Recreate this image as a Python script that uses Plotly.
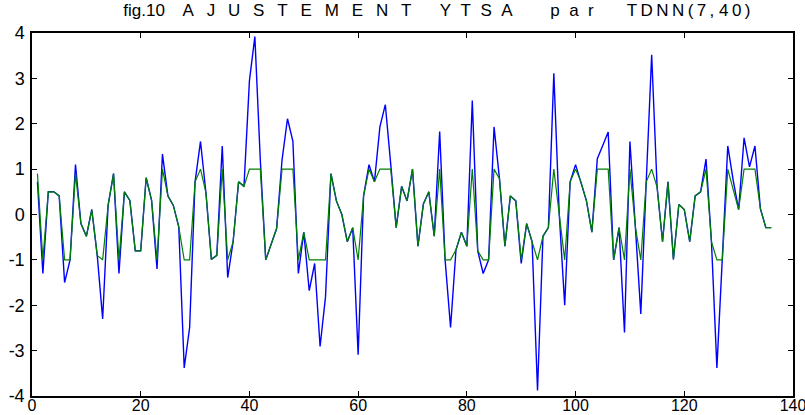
import plotly.graph_objects as go

x_index = list(range(1, 137))

ytsa = [0.72, -1.3, 0.5, 0.5, 0.41, -1.5, -1.0, 1.1, -0.2, -0.48,
        0.11, -0.9, -2.3, 0.2, 0.9, -1.3, 0.5, 0.31, -0.8, -0.8,
        0.81, 0.31, -1.2, 1.33, 0.41, 0.2, -0.27, -3.38, -2.49, 0.72,
        1.61, 0.48, -0.99, -0.9, 1.51, -1.39, -0.6, 0.72, 0.62, 2.95,
        3.92, 1.2, -1.0, -0.67, -0.31, 1.2, 2.11, 1.61, -1.3, -0.39,
        -1.68, -1.08, -2.91, -1.81, 0.9, 0.3, 0.0, -0.6, -0.29, -3.09,
        0.41, 1.1, 0.72, 1.93, 2.42, 1.1, -0.29, 0.62, 0.3, 1.0,
        -0.7, 0.23, 0.5, -0.48, 1.83, -1.0, -2.49, -0.78, -0.39, -0.7,
        2.51, -0.8, -1.3, -1.0, 1.93, 0.79, -0.7, 0.41, 0.3, -1.08,
        -0.2, -0.6, -3.88, -0.48, -0.29, 3.11, 0.0, -2.0, 0.72, 1.1,
        0.72, 0.3, -0.39, 1.23, 1.52, 1.82, -1.0, -0.29, -2.6, 1.61,
        -0.27, -2.19, 0.72, 3.52, 0.6, -0.6, 0.72, -0.99, 0.22, 0.11,
        -0.6, 0.41, 0.5, 1.22, -0.6, -3.38, -0.95, 1.51, 0.75, 0.11,
        1.69, 1.05, 1.51, 0.13, -0.29, -0.29]

tdnn = [0.9, -1, 0.5, 0.5, 0.41, -1, -1, 0.9, -0.2, -0.48,
        0.11, -0.9, -1, 0.2, 0.9, -1, 0.5, 0.31, -0.8, -0.8,
        0.81, 0.31, -1, 1, 0.41, 0.2, -0.27, -1, -1, 0.72,
        1, 0.48, -0.99, -0.9, 1, -1, -0.6, 0.72, 0.62, 1,
        1, 1, -1, -0.67, -0.31, 1, 1, 1, -1, -0.39,
        -1, -1, -1, -1, 0.9, 0.3, 0.0, -0.6, -0.29, -1,
        0.41, 1, 0.72, 1, 1, 1, -0.29, 0.62, 0.3, 1,
        -0.7, 0.23, 0.5, -0.48, 1, -1, -1, -0.78, -0.39, -0.7,
        1, -0.8, -1, -1, 1, 0.79, -0.7, 0.41, 0.3, -1,
        -0.2, -0.6, -1, -0.48, -0.29, 1, 0.0, -1, 0.72, 1,
        0.72, 0.3, -0.39, 1, 1, 1, -1, -0.29, -1, 1,
        -0.27, -1, 0.72, 1, 0.6, -0.6, 0.72, -0.99, 0.22, 0.11,
        -0.6, 0.41, 0.5, 1, -0.6, -1, -1, 1, 0.55, 0.11,
        1, 1, 1, 0.13, -0.29, -0.29]

x_ticks = [0, 20, 40, 60, 80, 100, 120, 140]
y_ticks = [-4, -3, -2, -1, 0, 1, 2, 3, 4]

title_words = ["fig.10", "AJUSTEMENT", "YTSA", "par", "TDNN(7,", "40)"]

NB = "&nbsp;"
THIN = "\u2009"


def spaced(word, sep):
    return sep.join(list(word))


title_text = (title_words[0] + NB * 3 + THIN
              + spaced(title_words[1], NB * 2 + THIN) + NB * 6
              + spaced(title_words[2], NB * 2) + NB * 8
              + spaced(title_words[3], NB * 2) + NB * 7
              + spaced(title_words[4], THIN) + NB + spaced(title_words[5], THIN))

fig = go.Figure()
fig.add_trace(go.Scatter(x=x_index, y=ytsa, mode="lines",
                         line=dict(color="#0000FF", width=1.4), name="YTSA"))
fig.add_trace(go.Scatter(x=x_index, y=tdnn, mode="lines",
                         line=dict(color="#008000", width=1.2), name="TDNN"))

axis_common = dict(showgrid=False, zeroline=False, showline=True, linecolor="black",
                   linewidth=1.5, mirror="allticks", ticks="inside", ticklen=5,
                   tickcolor="black", tickwidth=1, automargin=False)

fig.update_layout(
    width=805, height=415,
    margin=dict(l=32, r=12, t=33, b=19),
    paper_bgcolor="white", plot_bgcolor="white",
    showlegend=False,
    title=dict(text=title_text, x=0.532, xanchor="center", xref="paper",
               y=0.99, yanchor="top",
               font=dict(family="Liberation Sans, Arial", size=17, color="black")),
    xaxis=dict(range=[0, 140], tickvals=x_ticks, ticktext=[str(v) for v in x_ticks],
               ticklabelstandoff=-6, ticklabeloverflow="allow",
               tickfont=dict(family="Liberation Sans, Arial", size=16, color="black"),
               **axis_common),
    yaxis=dict(range=[-4, 4], tickvals=y_ticks, ticktext=[str(v) for v in y_ticks],
               ticklabelstandoff=2,
               tickfont=dict(family="Liberation Sans, Arial", size=18, color="black"),
               **axis_common),
)

fig.write_html("out.html")
